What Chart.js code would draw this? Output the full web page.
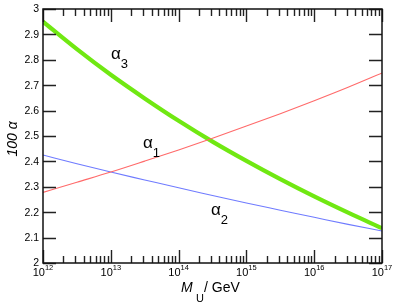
<!DOCTYPE html>
<html>
<head>
<meta charset="utf-8">
<script src="https://cdn.jsdelivr.net/npm/chart.js@4.4.1/dist/chart.umd.min.js"></script>
<style>
  html, body { margin: 0; padding: 0; background: #fff; }
</style>
</head>
<body>
<canvas id="chart" width="396" height="307"></canvas>
<script>
// unification scale (GeV), half-decade steps
const massGeV = [1e12, 3.162e12, 1e13, 3.162e13, 1e14, 3.162e14, 1e15, 3.162e15, 1e16, 3.162e16, 1e17];
// 100 * alpha_i
const alpha1 = [2.278, 2.318, 2.358, 2.401, 2.445, 2.491, 2.539, 2.588, 2.639, 2.692, 2.748];
const alpha2 = [2.425, 2.391, 2.358, 2.327, 2.296, 2.266, 2.236, 2.208, 2.180, 2.152, 2.126];
const alpha3 = [2.950, 2.842, 2.741, 2.648, 2.560, 2.478, 2.402, 2.330, 2.262, 2.198, 2.137];

const yTicks = [2, 2.1, 2.2, 2.3, 2.4, 2.5, 2.6, 2.7, 2.8, 2.9, 3];
const yTickLabels = ["2", "2.1", "2.2", "2.3", "2.4", "2.5", "2.6", "2.7", "2.8", "2.9", "3"];
const xDecades = [12, 13, 14, 15, 16, 17];

const FONT = "'Liberation Sans', Arial, Helvetica, sans-serif";

const toPoints = (ys) => ys.map((v, i) => ({ x: massGeV[i], y: v }));

// frame, inward ticks, tick labels and all annotation text
const framePlugin = {
  id: "frame",
  afterDraw(chart) {
    const { ctx, chartArea: a, scales } = chart;
    const x = scales.x, y = scales.y;
    ctx.save();

    // ticks
    ctx.strokeStyle = "#222";
    ctx.lineWidth = 1.4;
    ctx.beginPath();
    yTicks.forEach((v) => {
      const py = Math.round(y.getPixelForValue(v)) + 0.5;
      ctx.moveTo(a.left, py); ctx.lineTo(a.left + 13, py);
      ctx.moveTo(a.right - 13, py); ctx.lineTo(a.right, py);
    });
    xDecades.forEach((d) => {
      for (let m = 1; m <= 9; m++) {
        const val = m * Math.pow(10, d);
        if (val > 1e17 * 1.0001) break;
        const px = Math.round(x.getPixelForValue(val)) + 0.5;
        const len = m === 1 ? 13 : 7;
        ctx.moveTo(px, a.bottom); ctx.lineTo(px, a.bottom - len);
        ctx.moveTo(px, a.top); ctx.lineTo(px, a.top + len);
      }
    });
    ctx.stroke();

    // frame
    ctx.strokeStyle = "#111";
    ctx.lineWidth = 1.5;
    ctx.strokeRect(a.left, a.top, a.right - a.left, a.bottom - a.top);

    // y tick labels
    ctx.fillStyle = "#000";
    ctx.font = "10.5px " + FONT;
    ctx.textAlign = "right";
    ctx.textBaseline = "middle";
    yTicks.forEach((v, i) => {
      ctx.fillText(yTickLabels[i], a.left - 4, y.getPixelForValue(v) + 0.5);
    });

    // x tick labels 10^n
    ctx.textAlign = "left";
    ctx.textBaseline = "alphabetic";
    xDecades.forEach((d) => {
      const px = x.getPixelForValue(Math.pow(10, d));
      ctx.font = "11px " + FONT;
      const wBase = ctx.measureText("10").width;
      ctx.font = "7.5px " + FONT;
      const wSup = ctx.measureText(String(d)).width;
      const start = px - (wBase + wSup) / 2;
      ctx.font = "11px " + FONT;
      ctx.fillText("10", start, a.bottom + 13);
      ctx.font = "7.5px " + FONT;
      ctx.fillText(String(d), start + wBase, a.bottom + 6.5);
    });

    // x axis title: M_U / GeV
    ctx.font = "italic 14px " + FONT;
    ctx.fillText("M", 181, 292);
    ctx.font = "11px " + FONT;
    ctx.fillText("U", 196, 302);
    ctx.font = "14px " + FONT;
    ctx.fillText("/ GeV", 204, 292);

    // y axis title
    ctx.save();
    ctx.translate(17, 139);
    ctx.rotate(-Math.PI / 2);
    ctx.textAlign = "center";
    ctx.font = "italic 14px " + FONT;
    ctx.fillText("100 \u03b1", 0, 0);
    ctx.restore();

    // curve labels
    const label = (sub, ax, ay) => {
      ctx.font = "17px " + FONT;
      ctx.fillText("\u03b1", ax, ay);
      const w = ctx.measureText("\u03b1").width;
      ctx.font = "13px " + FONT;
      ctx.fillText(sub, ax + w, ay + 9);
    };
    label("3", 111, 59);
    label("1", 143, 148);
    label("2", 211, 215);

    ctx.restore();
  },
};

new Chart(document.getElementById("chart"), {
  type: "line",
  data: {
    datasets: [
      {
        label: "alpha1",
        data: toPoints(alpha1),
        borderColor: "#ff6a6a",
        borderWidth: 1.1,
        pointRadius: 0,
        cubicInterpolationMode: "monotone",
      },
      {
        label: "alpha2",
        data: toPoints(alpha2),
        borderColor: "#6f7bff",
        borderWidth: 1.1,
        pointRadius: 0,
        cubicInterpolationMode: "monotone",
      },
      {
        label: "alpha3",
        data: toPoints(alpha3),
        borderColor: "#70e812",
        borderWidth: 4.2,
        pointRadius: 0,
        cubicInterpolationMode: "monotone",
      },
    ],
  },
  options: {
    responsive: false,
    animation: false,
    devicePixelRatio: 1,
    layout: { padding: { left: 43, right: 14, top: 9, bottom: 44 } },
    plugins: { legend: { display: false }, tooltip: { enabled: false } },
    scales: {
      x: { type: "logarithmic", min: 1e12, max: 1e17, display: false },
      y: { type: "linear", min: 2, max: 3, display: false },
    },
  },
  plugins: [framePlugin],
});
</script>
</body>
</html>
